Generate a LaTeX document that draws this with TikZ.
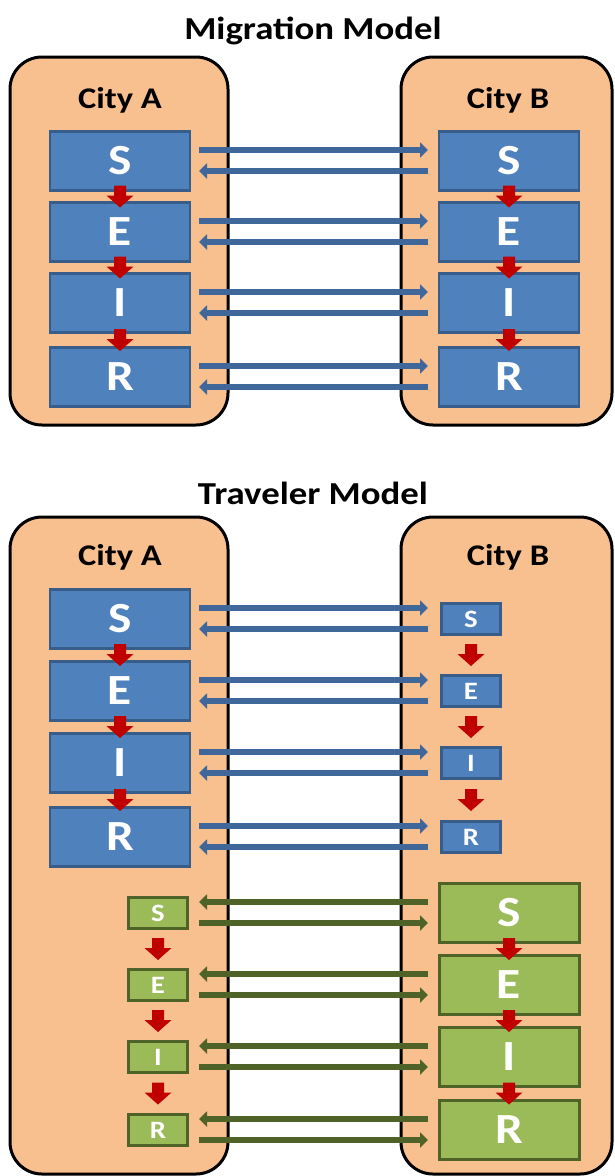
\documentclass[tikz,border=0pt]{standalone}
\usepackage{fontspec}
\setmainfont[FakeStretch=1.15]{Carlito}
\usetikzlibrary{arrows.meta,calc}
\definecolor{cityfill}{HTML}{F9C08F}
\definecolor{bluefill}{HTML}{4F81BD}
\definecolor{blueedge}{HTML}{385D8A}
\definecolor{bluearrow}{HTML}{3F679A}
\definecolor{greenfill}{HTML}{9BBB59}
\definecolor{greenedge}{HTML}{4F6228}
\definecolor{redc}{HTML}{C00000}

% red block arrow between two stacked compartments
\newcommand\drop[2]{%
  \fill[redc] ($(#1.south)!0.5!(#2.north)$) +(-6,-11) -- +(6,-11) -- +(6,-1)
    -- +(13.5,-1) -- +(0,11) -- +(-13.5,-1) -- +(-6,-1) -- cycle;}

\begin{document}
\begin{tikzpicture}[x=1pt,y=-1pt,
  city/.style={draw=black, line width=3pt, fill=cityfill, rounded corners=32pt},
  heading/.style={font=\fontsize{32}{38}\selectfont\bfseries},
  citylbl/.style={font=\fontsize{30}{34}\selectfont\bfseries},
  bigbox/.style={text=white, inner sep=0pt, minimum width=140pt, minimum height=59pt,
    font=\fontsize{43}{46}\selectfont\bfseries},
  smallbox/.style={text=white, inner sep=0pt, minimum width=59pt, minimum height=31pt,
    font=\fontsize{25}{27}\selectfont\bfseries},
  bluebox/.style={draw=blueedge, line width=2.5pt, fill=bluefill},
  greenbox/.style={draw=greenedge, line width=3pt, fill=greenfill},
  flow/.style={line width=5.5pt, -{Triangle[length=8pt,width=15pt]}},
  blueflow/.style={flow, draw=bluearrow},
  greenflow/.style={flow, draw=greenedge}]
\useasboundingbox (0,0) rectangle (614,1176);
\fill[white] (0,0) rectangle (614,1176);

% column limits of the exchange arrows
\coordinate (xl) at (199,0);
\coordinate (xr) at (428,0);

%% ---------------- Migration model ----------------
\node[heading] (t1) at (313,31) {Migration Model};
\draw[city] (10,57) rectangle (228,425);
\draw[city] (401,57) rectangle (612,425);
\node[citylbl] (mA) at (120,100) {City A};
\node[citylbl] (mB) at (508,100) {City B};

\foreach \s/\y in {S/161,E/232,I/303,R/377}{
  \node[bigbox,bluebox] (mA\s) at (120,\y) {\s};
  \node[bigbox,bluebox] (mB\s) at (509,\y) {\s};
  \draw[blueflow] ([yshift=11pt]mA\s.east -| xl) -- ([yshift=11pt]mB\s.west -| xr);
  \draw[blueflow] ([yshift=-10pt]mB\s.west -| xr) -- ([yshift=-10pt]mA\s.east -| xl);
}
\drop{mAS}{mAE}\drop{mAE}{mAI}\drop{mAI}{mAR}
\drop{mBS}{mBE}\drop{mBE}{mBI}\drop{mBI}{mBR}

%% ---------------- Traveler model ----------------
\node[heading] (t2) at (313,493) {Traveler Model};
\draw[city] (10,517) rectangle (228,1174);
\draw[city] (401,517) rectangle (612,1174);
\node[citylbl] (tA) at (120,557) {City A};
\node[citylbl] (tB) at (508,557) {City B};

% residents of city A
\foreach \s/\y in {S/619,E/691,I/763,R/837}{
  \node[bigbox,bluebox] (aA\s) at (120,\y) {\s};
  \node[smallbox,bluebox] (aB\s) at (471,\y) {\s};
  \draw[blueflow] ([yshift=11pt]aA\s.east -| xl) -- ([yshift=11pt]aB\s.west -| xr);
  \draw[blueflow] ([yshift=-10pt]aB\s.west -| xr) -- ([yshift=-10pt]aA\s.east -| xl);
}
\drop{aAS}{aAE}\drop{aAE}{aAI}\drop{aAI}{aAR}
\drop{aBS}{aBE}\drop{aBE}{aBI}\drop{aBI}{aBR}

% residents of city B
\foreach \s/\y in {S/913,E/985,I/1057,R/1130}{
  \node[smallbox,greenbox] (bA\s) at (158,\y) {\s};
  \node[bigbox,greenbox] (bB\s) at (509,\y) {\s};
  \draw[greenflow] ([yshift=11pt]bB\s.west -| xr) -- ([yshift=11pt]bA\s.east -| xl);
  \draw[greenflow] ([yshift=-10pt]bA\s.east -| xl) -- ([yshift=-10pt]bB\s.west -| xr);
}
\drop{bAS}{bAE}\drop{bAE}{bAI}\drop{bAI}{bAR}
\drop{bBS}{bBE}\drop{bBE}{bBI}\drop{bBI}{bBR}
\end{tikzpicture}
\end{document}
